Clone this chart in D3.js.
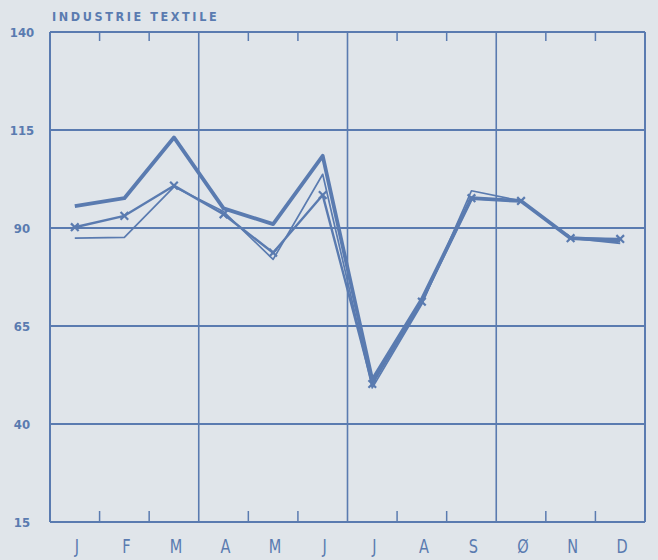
<!DOCTYPE html>
<html><head><meta charset="utf-8">
<script src="https://cdn.jsdelivr.net/npm/d3@7"></script>
<style>
html,body{margin:0;padding:0;background:#e0e5ea;}
svg{display:block;}
</style></head>
<body>
<svg id="chart" width="658" height="560"></svg>
<script>
const title = "INDUSTRIE TEXTILE";
const months = ["J","F","M","A","M","J","J","A","S","Ø","N","D"];
const yTicks = [15, 40, 65, 90, 115, 140];
const seriesThick = [95.6, 97.6, 113.1, 95.0, 91.0, 108.4, 51.2, 71.8, 97.6, 96.9, 87.4, 86.8];
const seriesCross = [90.2, 93.1, 100.8, 93.5, 83.7, 98.4, 50.2, 71.2, 97.6, 96.9, 87.4, 87.2];
const seriesThin  = [87.4, 87.6, 100.5, 94.2, 82.0, 103.7, 49.2, 70.6, 99.5, 96.9, 87.4, 86.1];

const col = "#5a7bb0";
const svg = d3.select("#chart");
const L = 50, R = 645, T = 32, B = 522;

const x = d3.scaleBand().domain(d3.range(12)).range([L, R]).padding(0);
const y = d3.scaleLinear().domain([15, 140]).range([B, T]);
const cx = i => x(i) + x.bandwidth() / 2;

// horizontal grid lines
svg.append("g").selectAll("line").data(yTicks).join("line")
  .attr("x1", L).attr("x2", R)
  .attr("y1", d => y(d)).attr("y2", d => y(d))
  .attr("stroke", col).attr("stroke-width", 2.2);

// vertical frame + quarter lines
const quarters = [0, 3, 6, 9, 12];
svg.append("g").selectAll("line").data(quarters).join("line")
  .attr("x1", d => d === 12 ? R : x(d)).attr("x2", d => d === 12 ? R : x(d))
  .attr("y1", T).attr("y2", B)
  .attr("stroke", col).attr("stroke-width", d => (d === 0 || d === 12) ? 2 : 1.6);

// month ticks (top and bottom)
const minor = [1, 2, 4, 5, 7, 8, 10, 11];
svg.append("g").selectAll("line").data(minor).join("line")
  .attr("x1", d => x(d)).attr("x2", d => x(d))
  .attr("y1", B).attr("y2", B - 11)
  .attr("stroke", col).attr("stroke-width", 1.5);
svg.append("g").selectAll("line").data(minor).join("line")
  .attr("x1", d => x(d)).attr("x2", d => x(d))
  .attr("y1", T).attr("y2", T + 9)
  .attr("stroke", col).attr("stroke-width", 1.5);

// y labels
svg.append("g").selectAll("text").data(yTicks).join("text")
  .attr("x", 22).attr("y", d => y(d) + 5)
  .attr("text-anchor", "middle")
  .attr("font-family", "'DejaVu Sans Condensed', 'DejaVu Sans', sans-serif")
  .attr("font-weight", "bold").attr("font-size", 13)
  .attr("fill", col).text(d => d);

// month labels
svg.append("g").selectAll("text").data(months).join("text")
  .attr("transform", (d, i) => `translate(${cx(i) + 2},553) scale(0.85,1)`)
  .attr("text-anchor", "middle")
  .attr("font-family", "'DejaVu Sans Condensed', 'DejaVu Sans', sans-serif")
  .attr("font-size", 19)
  .attr("fill", col).text(d => d);

// title
svg.append("text").attr("x", 52).attr("y", 21)
  .attr("font-family", "'DejaVu Sans Condensed', 'DejaVu Sans', sans-serif")
  .attr("font-weight", "bold").attr("font-size", 12.5)
  .attr("letter-spacing", 2.6)
  .attr("fill", col).text(title);

const line = d3.line().x((d, i) => cx(i)).y(d => y(d));

svg.append("path").datum(seriesThin).attr("d", line)
  .attr("fill", "none").attr("stroke", col).attr("stroke-width", 1.7).attr("stroke-linejoin", "round");
svg.append("path").datum(seriesCross).attr("d", line)
  .attr("fill", "none").attr("stroke", col).attr("stroke-width", 2.4).attr("stroke-linejoin", "round");
svg.append("path").datum(seriesThick).attr("d", line)
  .attr("fill", "none").attr("stroke", col).attr("stroke-width", 3.8).attr("stroke-linejoin", "round");

// cross markers
svg.append("g").selectAll("path").data(seriesCross).join("path")
  .attr("transform", (d, i) => `translate(${cx(i)},${y(d)})`)
  .attr("d", d3.symbol().type(d3.symbolX).size(40))
  .attr("fill", "none").attr("stroke", col).attr("stroke-width", 2.2);
</script>
</body></html>
